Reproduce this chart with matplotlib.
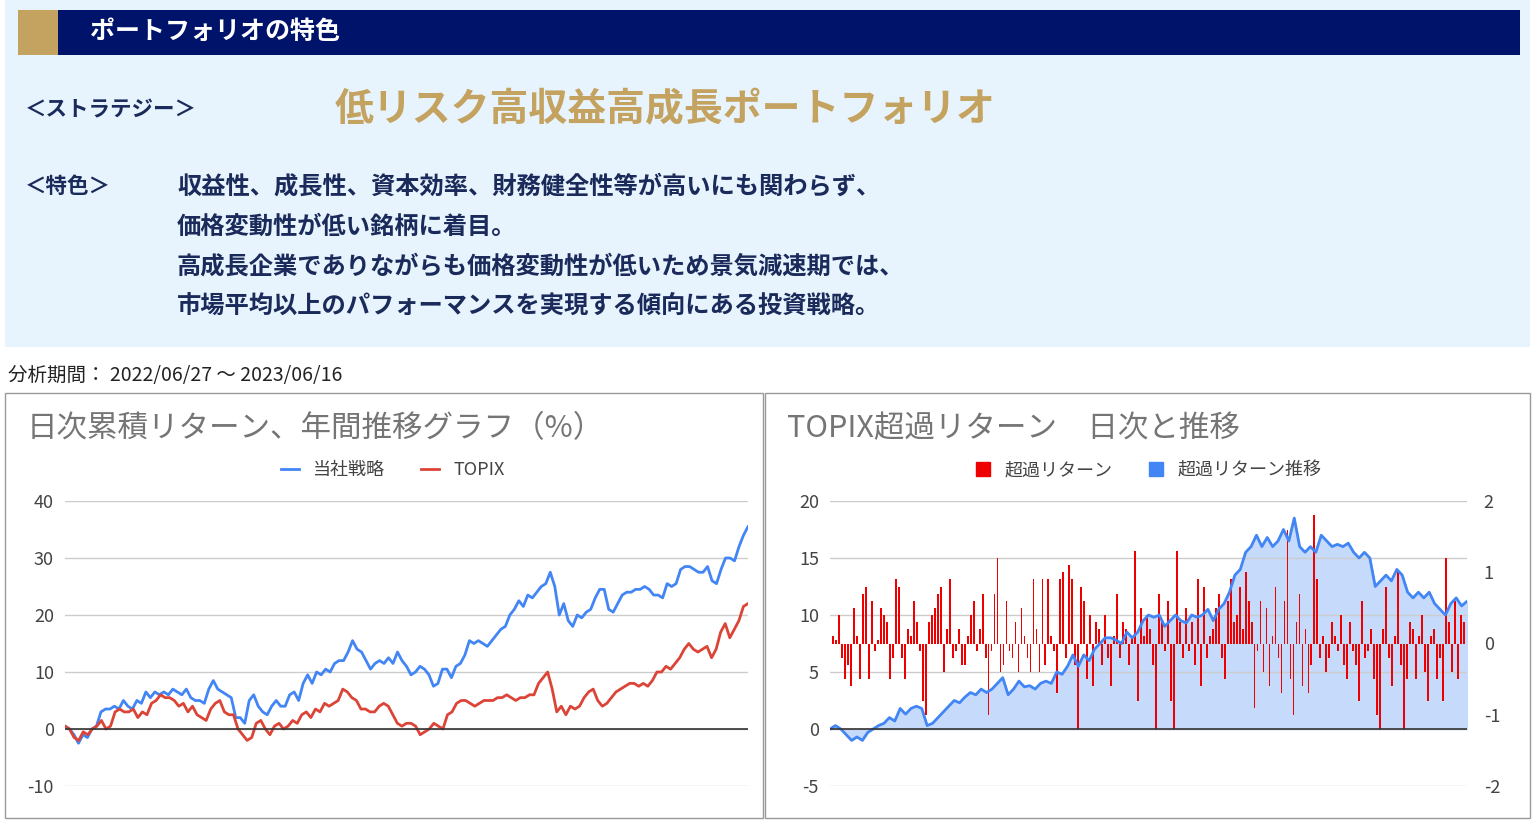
import numpy as np
import matplotlib
matplotlib.use("Agg")
import matplotlib.pyplot as plt
from matplotlib.patches import Rectangle, Patch

plt.rcParams['font.family'] = ['Noto Sans CJK JP', 'DejaVu Sans']
plt.rcParams['axes.unicode_minus'] = False

W, H = 1538, 827
strategy = [0.5,0,-1,-2.5,-1,-1.5,0,0.5,3,3.5,3.5,4,3.5,5,4,3.5,5,4.5,6.5,5.5,6.5,6,6.5,6,7,6.5,6,7,5.5,5,5,4.5,7,8.5,7,6.5,6,5.5,2,2,1,5,6,4,3,2.5,4,5,4,4,6,6.5,5,8,9.5,8,10,9.5,10.5,10,11.5,12,12,13.5,15.5,14,13.5,12,10.5,11.5,12,11.5,12.5,11.5,13.5,12,11,9.5,10,11,10.5,9.5,7.5,8,10.5,10.5,9,11,11.5,13,15.5,15,15.5,15,14.5,15.5,16.5,17.5,18,20,21,22.5,21.5,23.5,23,24,25,25.5,27.5,25,20,22,19,18,20,19.5,20.5,21,23,24.5,24.5,21,20.5,22,23.5,24,24,24.5,24.5,25,24.5,23.5,23.5,23,25.5,25,25.5,28,28.5,28.5,28,27.5,27.5,28.5,26,25.5,28,30,30,29.5,32,34,35.5]
topix = [0.5,0,-1.5,-2,-0.5,-1,0,0.5,1.5,0,0.5,3,3.5,3,3,3.5,2,3,2.5,4.5,5,6,5.5,5.5,5,4,4.5,3,4,2.5,2,1.5,3.5,4.5,5,3,2.5,2.5,0,-1,-2,-1.5,1,1.5,0,-1,0.5,1,0,0.5,1.5,1,2.5,3,2,3.5,3,4.5,4,4.5,5,7,6.5,5.5,5,3.5,3.5,3,3,4,4.5,4,2.5,1,0.5,1,1,0.5,-1,-0.5,0,1,0.5,0,2.5,3,4.5,5,5,4.5,4,4.5,5,5,5,5.5,5.5,6,5.5,5,5.5,5.5,6,6,8,9,10,7,3,4,2.5,4,3.5,4,5.5,6.5,7,5,4,4.5,5.5,6.5,7,7.5,8,8,7.5,8,7.5,8.5,10,10,11,10.5,11.5,12.5,14,15,14,13.5,14,14.5,12.5,14,17,18.5,16,17.5,19,21.5,22]
excess_cum = [0,0.3,0,-0.5,-1,-0.7,-1,-0.3,0,0.3,0.5,1,0.7,1.8,1.3,1.8,2,1.8,0.3,0.5,1,1.5,2,2.5,2.3,2.8,3.2,3,3.5,3.2,3.5,4,4.5,3,3.5,4.2,3.7,3.8,3.5,4,4.2,4,5,4.8,5.5,6.5,5.5,6.5,6,7,7.5,8,8,7.8,7.5,8.5,8,8.5,9.5,10,9.8,10,9,9.5,10,9.5,9.3,10,9.8,10,10.5,9.5,10.5,11,12,13.5,14,15.5,16,17,16,16.8,16,16.5,17.5,16.5,18.5,16,15.5,16,15.5,17,16.5,16,16.2,16,16.3,15.5,15,15.5,15,12.5,13,13.5,13,14,13.5,12,11.5,12,11.5,12,11,10.5,10,11,11.5,10.8,11.2]
excess_daily = [0.1,0.05,0.4,-0.2,-0.5,-0.3,-0.6,0.5,0.1,-0.5,0.7,0.8,-0.5,0.6,-0.1,0.05,0.5,0.4,0.3,-0.5,-0.2,0.9,0.8,-0.2,-0.5,0.2,0.1,0.6,0.3,-0.1,-0.8,-1.0,0.3,0.4,0.5,0.7,0.8,-0.4,0.2,0.9,-0.2,-0.1,0.2,-0.3,-0.3,0.1,0.4,0.6,-0.1,0.2,0.7,-0.2,-1.0,-0.1,0.7,1.2,-0.4,-0.3,0.6,-0.1,-0.2,0.3,-0.4,0.5,0.1,-0.2,-0.4,0.9,0.2,-0.4,0.9,-0.3,0.9,0.1,-0.1,-0.7,0.9,1.0,-0.2,1.1,0.9,-0.3,-1.2,0.8,0.6,-0.5,0.4,-0.6,0.3,0.2,-0.3,0.4,-0.2,-0.6,0.1,0.7,-0.2,0.3,0.2,-0.3,0.1,1.3,-0.8,0.5,0.1,0.4,0.2,-0.3,-1.2,0.7,0.3,-0.1,0.6,-0.8,-1.2,1.3,0.3,-0.2,0.5,-0.1,0.3,-0.3,0.9,-0.6,0.8,-0.2,0.1,0.2,0.5,0.7,-0.2,-0.5,0.6,0.9,0.3,0.4,0.8,0.2,1.0,0.6,0.3,-0.9,-0.1,0.6,-0.4,0.5,-0.6,0.1,0.8,-0.2,-0.7,0.6,1.6,-0.5,-1.0,0.3,0.7,-0.6,0.2,-0.7,-0.3,1.8,0.9,-0.2,0.1,-0.4,-0.2,0.3,0.1,-0.1,0.4,-0.3,-0.5,0.3,-0.1,-0.3,-0.8,0.6,-0.2,-0.1,0.2,-0.5,-1.0,-1.2,0.2,0.8,-0.2,-0.6,0.1,1.0,-0.3,-1.2,-0.5,0.3,0.2,-0.5,0.1,0.4,-0.4,-0.8,0.1,0.2,-0.5,-0.2,-0.8,1.2,0.3,-0.4,0.6,-0.5,0.4,0.3]
left_ticks = [-10, 0, 10, 20, 30, 40]
right_ticks = [-5, 0, 5, 10, 15, 20]
right2_ticks = [-2, -1, 0, 1, 2]

fig = plt.figure(figsize=(W/100, H/100), dpi=100)

def rect(x0, y0, x1, y1, **kw):
    fig.patches.append(Rectangle((x0/W, 1-y1/H), (x1-x0)/W, (y1-y0)/H,
                                 transform=fig.transFigure, **kw))

def txt(x, y, s, **kw):
    fig.text(x/W, 1-y/H, s, va='center', **kw)

def axes(x0, y0, x1, y1):
    return fig.add_axes([x0/W, 1-y1/H, (x1-x0)/W, (y1-y0)/H])

navy = '#1a2a5a'
rect(5, 0, 1530, 347, facecolor='#e8f4fd', edgecolor='none')
rect(18, 10, 58, 55, facecolor='#c4a25f', edgecolor='none')
rect(58, 10, 1520, 55, facecolor='#00136b', edgecolor='none')
txt(90, 32, 'ポートフォリオの特色', color='white', fontsize=18, fontweight='bold')
txt(25, 110, '＜ストラテジー＞', color=navy, fontsize=15.5, fontweight='bold')
txt(335, 110, '低リスク高収益高成長ポートフォリオ', color='#c4a25f', fontsize=28, fontweight='bold')
txt(25, 186, '＜特色＞', color=navy, fontsize=15.5, fontweight='bold')
for y, s in zip([186, 227, 267, 307],
                ['収益性、成長性、資本効率、財務健全性等が高いにも関わらず、',
                 '価格変動性が低い銘柄に着目。',
                 '高成長企業でありながらも価格変動性が低いため景気減速期では、',
                 '市場平均以上のパフォーマンスを実現する傾向にある投資戦略。']):
    txt(177, y, s, color=navy, fontsize=17.5, fontweight='bold')
txt(8, 376, '分析期間： 2022/06/27 ～ 2023/06/16', color='#222222', fontsize=14)

rect(5, 393, 763, 818, facecolor='none', edgecolor='#999999', linewidth=1)
rect(765, 393, 1530, 818, facecolor='none', edgecolor='#999999', linewidth=1)

gray = '#757575'
txt(27, 429, '日次累積リターン、年間推移グラフ（%）', color=gray, fontsize=22)
txt(787, 429, 'TOPIX超過リターン　日次と推移', color=gray, fontsize=22)

# left chart
ax = axes(65, 501, 748, 786)
xs = np.linspace(0, 1, len(strategy))
xt = np.linspace(0, 1, len(topix))
ax.plot(xs, strategy, color='#4285f4', lw=2, label='当社戦略')
ax.plot(xt, topix, color='#db4437', lw=2, label='TOPIX')
ax.set_xlim(0, 1)
ax.set_ylim(-10, 40)
ax.set_yticks(left_ticks)
ax.grid(axis='y', color='#cccccc', lw=1)
ax.axhline(0, color='#333333', lw=1.2)
for s in ax.spines.values():
    s.set_visible(False)
ax.set_xticks([])
ax.tick_params(axis='y', length=0, labelsize=13, labelcolor='#444444', pad=8)
ax.legend(loc='lower center', bbox_to_anchor=(0.48, 1.02), ncol=2, frameon=False,
          fontsize=13, handlelength=1, labelcolor='#444444')

# right chart
ax2 = axes(830, 501, 1467, 786)
xc = np.linspace(0, 1, len(excess_cum))
ax2.fill_between(xc, 0, excess_cum, color='#c6dafc', zorder=1)
ax2.set_xlim(0, 1)
ax2.set_ylim(-5, 20)
ax2.set_yticks(right_ticks)
ax2.grid(axis='y', color='#cccccc', lw=1, zorder=0)
for s in ax2.spines.values():
    s.set_visible(False)
ax2.set_xticks([])
ax2.tick_params(axis='y', length=0, labelsize=13, labelcolor='#444444', pad=8)
ax3 = ax2.twinx()
xb = np.linspace(0.005, 0.995, len(excess_daily))
ax3.bar(xb, excess_daily, width=0.0028, color='#ee0000', linewidth=0, zorder=2)
ax3.plot(xc, excess_cum, color='#4285f4', lw=2, zorder=3, transform=ax2.transData)
ax3.plot([0, 1], [0, 0], color='#333333', lw=1.2, zorder=4, transform=ax2.transData)
ax3.set_xlim(0, 1)
ax3.set_ylim(-2, 2)
ax3.set_yticks(right2_ticks)
for s in ax3.spines.values():
    s.set_visible(False)
ax3.tick_params(axis='y', length=0, labelsize=13, labelcolor='#444444', pad=12)
ax3.legend(handles=[Patch(color='#ee0000', label='超過リターン'), Patch(color='#4285f4', label='超過リターン推移')],
           loc='lower center', bbox_to_anchor=(0.5, 1.02), ncol=2, frameon=False,
           fontsize=13, handlelength=0.8, handleheight=0.8, labelcolor='#444444')

fig.savefig('out.png', dpi=100)
